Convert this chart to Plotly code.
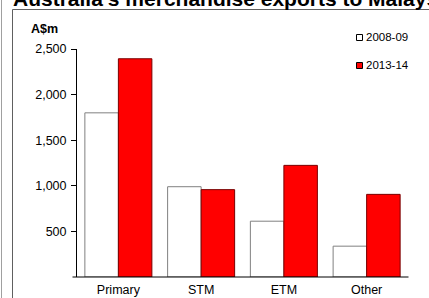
import plotly.graph_objects as go

categories = ["Primary", "STM", "ETM", "Other"]
series_names = ["2008-09", "2013-14"]
values_0809 = [1800, 990, 612, 338]
values_1314 = [2393, 958, 1224, 906]
y_ticks = [500, 1000, 1500, 2000, 2500]
y_tick_labels = ["500", "1,000", "1,500", "2,000", "2,500"]
title_text = "Australia's merchandise exports to Malaysia"
unit_text = "A$m"

W, H = 429, 298
L, R, T, B = 77, 21, 49, 21
pw, ph = W - L - R, H - T - B

def px(x):
    return (x - L) / pw

def py(y):
    return (H - B - y) / ph

font = "Liberation Sans, Arial, sans-serif"

fig = go.Figure()
fig.add_trace(go.Bar(x=categories, y=values_0809, name=series_names[0],
                     marker=dict(color="white", line=dict(color="#808080", width=1))))
fig.add_trace(go.Bar(x=categories, y=values_1314, name=series_names[1],
                     marker=dict(color="#FF0000", line=dict(color="#7a0000", width=1))))

shapes = [
    dict(type="line", xref="paper", yref="paper", x0=px(1.5), x1=px(1.5), y0=py(0), y1=py(298),
         line=dict(color="#a0a0a0", width=1)),
    dict(type="line", xref="paper", yref="paper", x0=px(12.5), x1=px(12.5), y0=py(9.5), y1=py(298),
         line=dict(color="#606060", width=1)),
    dict(type="line", xref="paper", yref="paper", x0=px(12.5), x1=px(430), y0=py(9.5), y1=py(9.5),
         line=dict(color="#606060", width=1)),
    dict(type="line", xref="paper", yref="paper", x0=px(72.5), x1=px(408.5), y0=py(277), y1=py(277),
         line=dict(color="black", width=1)),
    dict(type="rect", xref="paper", yref="paper", x0=px(356.5), x1=px(362.5), y0=py(34.5), y1=py(40.5),
         line=dict(color="black", width=1), fillcolor="white"),
    dict(type="rect", xref="paper", yref="paper", x0=px(356.5), x1=px(362.5), y0=py(62.5), y1=py(68.5),
         line=dict(color="black", width=1), fillcolor="#FF0000"),
]

annotations = [
    dict(text="<b>" + title_text + "</b>", xref="paper", yref="paper", x=px(11), y=py(12),
         xanchor="left", yanchor="bottom", showarrow=False,
         font=dict(family=font, size=21, color="black")),
    dict(text="<b>" + unit_text + "</b>", xref="paper", yref="paper", x=px(29), y=py(29),
         xanchor="left", yanchor="middle", showarrow=False,
         font=dict(family=font, size=12.5, color="black")),
    dict(text=series_names[0], xref="paper", yref="paper", x=px(364), y=py(37.5),
         xanchor="left", yanchor="middle", showarrow=False,
         font=dict(family=font, size=11.5, color="black")),
    dict(text=series_names[1], xref="paper", yref="paper", x=px(364), y=py(65.5),
         xanchor="left", yanchor="middle", showarrow=False,
         font=dict(family=font, size=11.5, color="black")),
]

fig.update_layout(
    width=W, height=H,
    margin=dict(l=L, r=R, t=T, b=B, pad=0, autoexpand=False),
    paper_bgcolor="white", plot_bgcolor="white",
    showlegend=False,
    barmode="group", bargap=0.19, bargroupgap=0,
    font=dict(family=font, size=12.5, color="black"),
    shapes=shapes, annotations=annotations,
)
fig.update_yaxes(range=[0, 2500], tickvals=y_ticks, ticktext=y_tick_labels, automargin=False,
                 showgrid=False, zeroline=False, showline=True, linecolor="black", linewidth=1,
                 ticks="outside", ticklen=5, tickcolor="black", tickwidth=1,
                 ticklabelstandoff=2)
fig.update_xaxes(showgrid=False, showline=False, ticks="", ticklabelstandoff=3, automargin=False)

fig.write_html("out.html", config={"displayModeBar": False},
               post_script="document.body.style.margin='0';document.body.style.overflow='hidden';")
